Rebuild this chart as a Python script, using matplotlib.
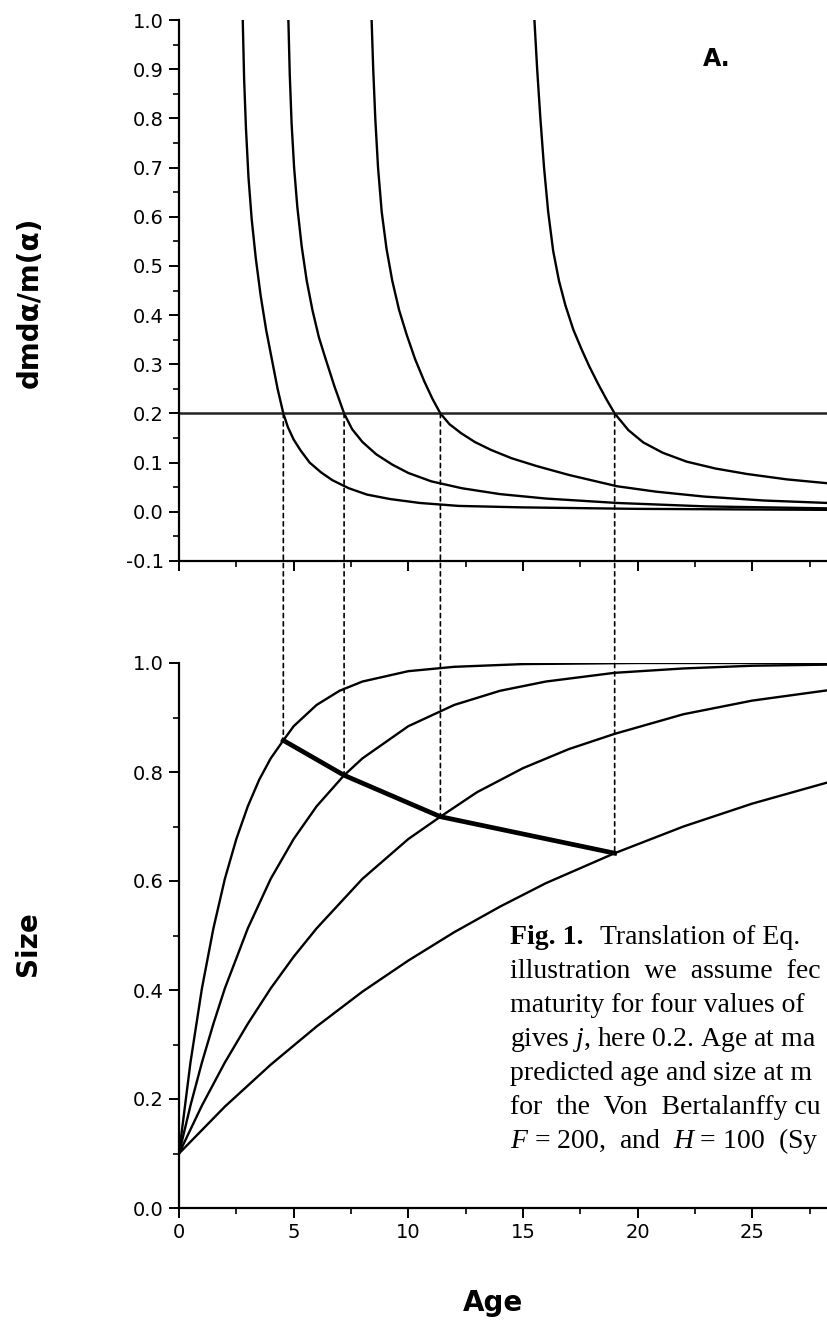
import matplotlib
matplotlib.use("Agg")
import matplotlib.pyplot as plt
from matplotlib.patches import ConnectionPatch
from matplotlib.ticker import MultipleLocator, FormatStrFormatter

# top panel: dmdα/m(α) against age, four growth rates
rate_age_1 = [2.78, 2.84, 2.92, 3.03, 3.17, 3.35, 3.56, 3.80, 4.05, 4.30, 4.55, 4.75, 5.0, 5.3, 5.7, 6.2, 6.7, 7.4, 8.2, 9.2, 10.5, 12.2, 15.0, 20.0, 28.3]
rate_1 = [1.0, 0.88, 0.78, 0.68, 0.595, 0.515, 0.44, 0.37, 0.31, 0.25, 0.20, 0.172, 0.147, 0.125, 0.10, 0.08, 0.064, 0.048, 0.035, 0.026, 0.018, 0.012, 0.009, 0.006, 0.004]

rate_age_2 = [4.77, 4.83, 4.91, 5.02, 5.16, 5.35, 5.57, 5.82, 6.1, 6.4, 6.78, 7.2, 7.55, 8.0, 8.6, 9.3, 10.0, 11.0, 12.33, 14.0, 16.0, 19.1, 23.0, 28.3]
rate_2 = [1.0, 0.89, 0.79, 0.70, 0.62, 0.54, 0.47, 0.41, 0.355, 0.31, 0.255, 0.20, 0.168, 0.142, 0.117, 0.096, 0.079, 0.062, 0.048, 0.036, 0.027, 0.018, 0.011, 0.007]

rate_age_3 = [8.40, 8.47, 8.56, 8.68, 8.84, 9.05, 9.30, 9.60, 9.93, 10.3, 10.7, 11.05, 11.4, 11.8, 12.3, 12.9, 13.6, 14.5, 15.6, 17.0, 19.1, 20.8, 22.9, 25.5, 28.3]
rate_3 = [1.0, 0.90, 0.80, 0.70, 0.61, 0.535, 0.47, 0.41, 0.36, 0.31, 0.265, 0.23, 0.20, 0.178, 0.16, 0.142, 0.126, 0.109, 0.093, 0.075, 0.052, 0.041, 0.031, 0.023, 0.018]

rate_age_4 = [15.50, 15.62, 15.76, 15.92, 16.10, 16.32, 16.57, 16.85, 17.2, 17.56, 17.9, 18.29, 18.65, 19.0, 19.6, 20.25, 21.1, 22.14, 23.4, 24.76, 26.5, 28.3]
rate_4 = [1.0, 0.90, 0.80, 0.70, 0.61, 0.53, 0.47, 0.42, 0.37, 0.33, 0.295, 0.259, 0.228, 0.20, 0.166, 0.141, 0.12, 0.102, 0.088, 0.077, 0.066, 0.058]

threshold = 0.2

# bottom panel: size against age (Von Bertalanffy curves)
size_age_1 = [0, 0.5, 1, 1.5, 2, 2.5, 3, 3.5, 4, 4.55, 5, 6, 7, 8, 10, 12, 15, 20, 28.3]
size_1 = [0.10, 0.267, 0.403, 0.513, 0.604, 0.677, 0.737, 0.786, 0.825, 0.858, 0.884, 0.923, 0.949, 0.966, 0.985, 0.993, 0.998, 1.0, 1.0]

size_age_2 = [0, 0.5, 1, 1.5, 2, 3, 4, 5, 6, 7.2, 8, 10, 12, 14, 16, 19, 22, 25, 28.3]
size_2 = [0.10, 0.188, 0.267, 0.338, 0.403, 0.513, 0.604, 0.677, 0.737, 0.794, 0.825, 0.884, 0.923, 0.949, 0.966, 0.982, 0.990, 0.995, 0.997]

size_age_3 = [0, 1, 2, 3, 4, 5, 6, 8, 10, 11.4, 13, 15, 17, 19, 22, 25, 28.3]
size_3 = [0.10, 0.188, 0.267, 0.338, 0.403, 0.461, 0.513, 0.604, 0.677, 0.718, 0.763, 0.807, 0.842, 0.870, 0.906, 0.931, 0.950]

size_age_4 = [0, 2, 4, 6, 8, 10, 12, 14, 16, 19, 22, 25, 28.3]
size_4 = [0.10, 0.186, 0.263, 0.333, 0.397, 0.454, 0.506, 0.553, 0.596, 0.651, 0.700, 0.742, 0.781]

# predicted age and size at maturity
mat_age = [4.55, 7.2, 11.4, 19.0]
mat_size = [0.858, 0.794, 0.718, 0.651]

# caption as far as it shows in the cropped page
caption = [
    "illustration  we  assume  fec",
    "maturity for four values of",
    "gives $j$, here 0.2. Age at ma",
    "predicted age and size at m",
    "for  the  Von  Bertalanffy cu",
    "$F$ = 200,  and  $H$ = 100  (Sy",
]

plt.rcParams['font.family'] = ['DejaVu Sans']
plt.rcParams['mathtext.fontset'] = 'custom'
plt.rcParams['mathtext.rm'] = 'Liberation Serif'
plt.rcParams['mathtext.it'] = 'Liberation Serif:italic'

W, H = 827, 1323
fig = plt.figure(figsize=(W / 100, H / 100), dpi=100)
x0 = 179
xmax = (W - x0) / 22.93

ax1 = fig.add_axes([x0 / W, 1 - 561 / H, (W - x0) / W, (561 - 20) / H])
ax2 = fig.add_axes([x0 / W, 1 - 1208 / H, (W - x0) / W, (1208 - 663) / H])

lw = 1.7
for xs, ys in [(rate_age_1, rate_1), (rate_age_2, rate_2), (rate_age_3, rate_3), (rate_age_4, rate_4)]:
    ax1.plot(xs, ys, color='black', lw=lw)
ax1.axhline(threshold, color='#222222', lw=1.8)

for xs, ys in [(size_age_1, size_1), (size_age_2, size_2), (size_age_3, size_3), (size_age_4, size_4)]:
    ax2.plot(xs, ys, color='black', lw=lw)
ax2.plot(mat_age, mat_size, color='black', lw=3.4, solid_joinstyle='round')

# dotted drop lines from the threshold crossing down to the size curves
for a, s in zip(mat_age, mat_size):
    con = ConnectionPatch(xyA=(a, threshold), coordsA=ax1.transData,
                          xyB=(a, s), coordsB=ax2.transData,
                          color='black', lw=1.2, linestyle=(0, (2.5, 2.5)))
    fig.add_artist(con)

for ax in (ax1, ax2):
    ax.set_xlim(0, xmax)
    ax.spines['top'].set_visible(False)
    ax.spines['right'].set_visible(False)
    ax.spines['left'].set_linewidth(1.6)
    ax.spines['bottom'].set_linewidth(1.6)
    ax.xaxis.set_major_locator(MultipleLocator(5))
    ax.xaxis.set_minor_locator(MultipleLocator(2.5))
    ax.tick_params(which='major', length=7, width=1.4, labelsize=14, pad=4)
    ax.tick_params(which='minor', length=4, width=1.2)
    ax.set_facecolor('none')

ax1.set_ylim(-0.1, 1.0)
ax1.yaxis.set_major_locator(MultipleLocator(0.1))
ax1.yaxis.set_minor_locator(MultipleLocator(0.05))
ax1.yaxis.set_major_formatter(FormatStrFormatter('%.1f'))
ax1.tick_params(axis='x', labelbottom=False)
ax1.text(22.85, 0.92, "A.", fontsize=17, fontweight='bold', va='center', ha='left')

ax2.set_ylim(0, 1.0)
ax2.yaxis.set_major_locator(MultipleLocator(0.2))
ax2.yaxis.set_minor_locator(MultipleLocator(0.1))
ax2.yaxis.set_major_formatter(FormatStrFormatter('%.1f'))

fig.text(30 / W, 1 - 302 / H, "dmdα/m(α)", rotation=90, fontsize=20,
         fontweight='bold', ha='center', va='center')
fig.text(28 / W, 1 - 944 / H, "Size", rotation=90, fontsize=20,
         fontweight='bold', ha='center', va='center')
fig.text(493 / W, 1 - 1303 / H, "Age", fontsize=20, fontweight='bold',
         ha='center', va='center')

serif = 'Liberation Serif'
fig.text(510 / W, 1 - 937 / H, "Fig. 1.", fontsize=20, family=serif,
         fontweight='bold', va='center')
fig.text(600 / W, 1 - 937 / H, "Translation of Eq.", fontsize=20,
         family=serif, va='center')
for i, line in enumerate(caption):
    fig.text(510 / W, 1 - (971 + 34 * i) / H, line, fontsize=20, family=serif,
             va='center')

fig.savefig("out.png", dpi=100)
